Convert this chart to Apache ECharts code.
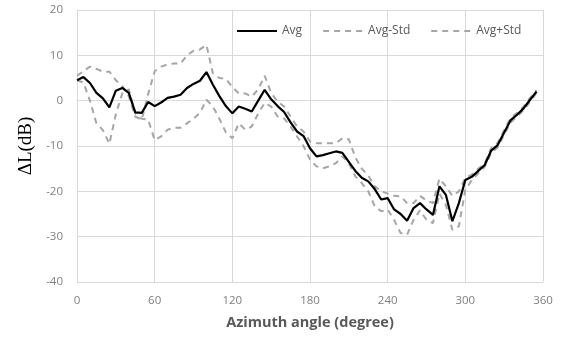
<!DOCTYPE html>
<html>
<head>
<meta charset="utf-8">
<script src="https://cdn.jsdelivr.net/npm/echarts@6/dist/echarts.min.js"></script>
<style>html,body{margin:0;padding:0;background:#fff}#c{width:563px;height:337px}</style>
</head>
<body>
<div id="c"></div>
<script>
const angles = [0,5,10,15,20,25,30,35,40,45,50,55,60,65,70,75,80,85,90,95,100,105,110,115,120,125,130,135,140,145,150,155,160,165,170,175,180,185,190,195,200,205,210,215,220,225,230,235,240,245,250,255,260,265,270,275,280,285,290,295,300,305,310,315,320,325,330,335,340,345,350,355];
const avg = [4.5,5.2,3.9,1.7,0.5,-1.5,2.2,2.8,1.7,-2.6,-2.7,-0.3,-1.2,-0.4,0.6,0.9,1.3,2.8,3.7,4.4,6.3,3.5,1.0,-1.2,-2.8,-1.3,-1.8,-2.4,0.0,2.4,0.3,-1.2,-2.5,-4.8,-6.8,-7.8,-10.5,-12.3,-12.0,-11.6,-11.2,-11.5,-13.5,-15.5,-17.0,-17.8,-19.5,-21.8,-21.5,-24.0,-25.0,-26.5,-23.7,-22.6,-24.0,-25.2,-18.9,-20.8,-26.6,-22.6,-17.5,-16.8,-15.5,-14.2,-11.0,-9.8,-7.0,-4.3,-3.1,-1.7,0.2,2.0];
const avgMinusStd = [4.5,4.0,0.0,-5.0,-6.5,-9.5,-3.0,1.6,2.5,-2.8,-4.0,-4.2,-8.7,-7.9,-6.4,-6.0,-6.0,-5.0,-4.0,-2.7,0.2,-1.3,-4.0,-7.0,-8.3,-5.0,-6.4,-5.7,-2.8,-0.5,-1.3,-3.5,-3.9,-5.7,-7.9,-10.0,-13.0,-14.5,-14.9,-14.5,-13.8,-12.3,-13.8,-16.7,-18.2,-20.0,-23.3,-24.4,-24.0,-26.3,-29.2,-29.6,-26.3,-24.2,-26.3,-27.0,-20.5,-23.0,-28.5,-27.7,-19.7,-17.5,-16.0,-14.6,-11.5,-10.3,-7.5,-4.8,-3.5,-2.1,-0.2,1.7];
const avgPlusStd = [5.5,6.5,7.5,7.0,6.4,6.4,4.5,3.2,1.0,-3.5,-4.2,1.5,6.5,7.5,8.0,8.2,8.2,10.0,11.0,11.3,12.3,6.0,5.0,4.8,3.0,1.6,1.6,0.9,2.5,5.5,1.7,-0.2,-1.3,-3.5,-5.7,-6.8,-9.0,-9.4,-9.4,-9.4,-9.4,-8.3,-8.5,-12.5,-15.0,-16.5,-18.9,-20.0,-20.5,-21.0,-21.1,-22.6,-22.6,-21.0,-22.0,-22.6,-17.2,-18.9,-21.0,-20.0,-17.0,-16.3,-15.0,-13.8,-10.5,-9.3,-6.5,-3.8,-2.7,-1.3,0.6,2.3];
const xTicks = [0,60,120,180,240,300,360];
const yTicks = [-40,-30,-20,-10,0,10,20];

const pair = arr => angles.map((a,i)=>[a,arr[i]]);
const chart = echarts.init(document.getElementById('c'), null, {renderer:'canvas'});
const gridColor = '#d9d9d9';
const labelColor = '#7f7f7f';
const font = 'Open Sans';
chart.setOption({
  animation:false,
  backgroundColor:'#fff',
  grid:{left:77,right:20,top:10,bottom:55},
  legend:{
    left:231, top:20, itemWidth:40, itemHeight:10, itemGap:20,
    itemStyle:{opacity:0},
    textStyle:{color:'#595959', fontSize:12, fontFamily:font},
    data:['Avg','Avg-Std','Avg+Std']
  },
  xAxis:{
    type:'value', min:xTicks[0], max:xTicks[xTicks.length-1], interval:60,
    name:'Azimuth angle (degree)', nameLocation:'middle', nameGap:33,
    nameTextStyle:{color:'#595959', fontSize:14.5, fontWeight:'bold', fontFamily:font},
    axisLine:{lineStyle:{color:gridColor}}, axisTick:{show:false},
    axisLabel:{color:labelColor, fontSize:11.5, fontFamily:font, margin:13},
    splitLine:{show:true, lineStyle:{color:gridColor, width:1}}
  },
  yAxis:{
    type:'value', min:yTicks[0], max:yTicks[yTicks.length-1], interval:10,
    name:'ΔL(dB)', nameLocation:'middle', nameGap:40, nameRotate:90,
    nameTextStyle:{color:'#000', fontSize:19, fontFamily:'Liberation Serif'},
    axisLine:{show:true, lineStyle:{color:gridColor}}, axisTick:{show:false},
    axisLabel:{color:labelColor, fontSize:11.5, fontFamily:font, margin:14},
    splitLine:{show:true, lineStyle:{color:gridColor, width:1}}
  },
  series:[
    {name:'Avg', type:'line', data:pair(avg), symbol:'none', z:5,
     lineStyle:{color:'#000', width:2.2}, itemStyle:{color:'#000'}},
    {name:'Avg-Std', type:'line', data:pair(avgMinusStd), symbol:'none', z:3,
     lineStyle:{color:'#a6a6a6', width:2, type:[6,5]}, itemStyle:{color:'#a6a6a6'}},
    {name:'Avg+Std', type:'line', data:pair(avgPlusStd), symbol:'none', z:3,
     lineStyle:{color:'#a6a6a6', width:2, type:[6,5]}, itemStyle:{color:'#a6a6a6'}}
  ]
});
</script>
</body>
</html>
